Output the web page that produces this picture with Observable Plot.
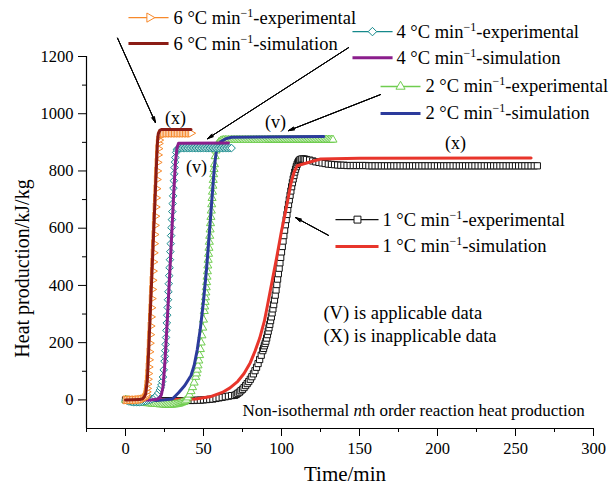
<!DOCTYPE html>
<html><head><meta charset="utf-8">
<script src="https://cdn.jsdelivr.net/npm/d3@7"></script>
<script src="https://cdn.jsdelivr.net/npm/@observablehq/plot@0.6"></script>
<style>body{margin:0;background:#fff;} svg text{font-family:'Liberation Serif','Times New Roman',serif !important;}</style>
</head><body><div id="chart"></div>
<script>
// ---- data: [time (min), heat production (kJ/kg)] ----
const exp1 = [[0,0],[2,-1],[4,-1],[6,-2],[8,-2],[10,-2],[12,-3],[14,-3],[16,-3],[18,-3],[20,-3],[22,-3],[24,-3],[26,-3],[28,-3],[30,-3],[32,-3],[34,-3],[36,-3],[38,-3],[40,-2],[42,-2],[44,-2],[46,-1],[48,-1],[50,0],[52,1],[54,2],[56,3],[58,5],[60,7],[62,9],[64,11],[66,13],[68,15],
[70,16],[71,19],[72,23],[73,27],[74,32],[75,37],[76,43],[77,50],[78,57],[79,64],[80,72],[81,81],[82,91],[83,102],[84,114],[85,127],[86,141],[87,156],[88,172],[88.5,180],[89,189],[89.5,197],[90,205],[90.5,216],[91,228],[91.5,240],[92,252],[92.5,264],[93,277],[93.5,290],[94,304],[94.5,318],[95,333],[95.5,349],[96,366],[96.5,384],[97,403],[97.5,422],[98,441],[98.5,460],[99,479],[99.5,498],[100,517],[100.5,536],[101,555],[101.5,574],[102,593],[102.5,612],[103,630],[103.5,648],[104,666],[104.5,683],[105,699],[105.5,715],[106,730],[106.5,745],[107,759],[107.5,772],[108,784],[108.5,796],[109,806],[109.5,815],[110,823],[110.5,829],[111,834],[111.5,837],[112,840],[113,842],[114,842],[115,841],[116,840],[118,838],[120,835],[122,832],[124,830],[126,828],[128,826],[130,824],[132,823],[134,822],[136,821],[138,820],[140,820],
[142,819],[144,819],[146,819],[148,819],[150,819],[152,819],[154,819],[156,818],[158,818],[160,818],[162,818],[164,818],[166,818],[168,818],[170,818],[172,818],[174,818],[176,818],[178,818],[180,818],[182,818],[184,818],[186,818],[188,818],[190,818],[192,818],[194,818],[196,818],[198,818],[200,818],[202,818],[204,818],[206,818],[208,818],[210,818],[212,818],[214,818],[216,818],[218,818],[220,818],[222,818],[224,818],[226,818],[228,818],[230,818],[232,818],[234,818],[236,818],[238,818],[240,818],[242,818],[244,818],[246,818],[248,818],[250,818],[252,818],[254,818],[256,818],[258,818],[260,818],[262,818],[264,818]];
const sim1 = [[0,0],[30,1],[45,3],[55,12],[62,26],[67,42],[72,65],[76,92],[80,130],[83,170],[86,215],[89,275],[91,330],[94,415],[97,500],[100,590],[102.5,655],[104.5,712],[106,755],[108,795],[110,818],[125,842],[150,844],[260,845]];

const exp2 = [[0,0],[1,-1],[2,-2],[3,-3],[4,-4],[5,-5],[6,-6],[7,-7],[8,-8],[9,-9],[10,-10],[11,-10],[12,-11],[13,-11],[14,-12],[15,-12],[16,-13],[17,-13],[18,-14],[19,-14],[20,-15],[21,-15],[22,-16],[23,-16],[24,-16],[25,-17],[26,-17],[27,-17],[28,-17],[29,-17],[30,-17],[31,-16],[32,-16],[33,-15],[34,-14],[35,-12],[36,-10],[37,-8],[38,-5],[39,0],[40,8],[41,18],[42,30],[43,44],[44,60],[45,80],[45.5,92],[46,105],[46.5,120],[47,137],[47.5,156],[48,177],[48.5,200],[49,225],[49.5,252],[50,280],[50.5,310],[50.75,326],[51,342],[51.25,358],[51.5,375],[51.75,393],[52,411],[52.25,430],[52.5,449],[52.75,469],[53,489],[53.25,510],[53.5,531],[53.75,552],[54,573],[54.25,595],[54.5,617],[54.75,639],[55,661],[55.25,683],[55.5,705],[55.75,727],[56,748],[56.25,768],[56.5,788],[56.75,806],[57,823],[57.5,851],[58,871],[58.5,885],[59,894],[60,901],[61,905],[62,907],
[63,908],[64,908],[65,908],[66,908],[67,908],[68,908],[69,908],[70,908],[71,908],[72,908],[73,908],[74,908],[75,908],[76,908],[77,908],[78,908],[79,908],[80,908],[81,908],[82,908],[83,908],[84,908],[85,908],[86,908],[87,908],[88,908],[89,908],[90,908],[91,908],[92,909],[93,909],[94,909],[95,909],[96,909],[97,909],[98,909],[99,909],[100,909],[101,909],[102,909],[103,909],[104,909],[105,909],[106,909],[107,909],[108,909],[109,909],[110,909],[111,909],[112,909],[113,909],[114,909],[115,909],[116,909],[117,909],[118,909],[119,909],[120,909],[121,909],[122,909],[123,909],[124,909],[125,909],[126,909],[127,909],[128,909],[129,909],[130,909],[131,909],[132,909],[133,909]];
const sim2 = [[0,0],[20,-2],[30,3],[34,25],[38,50],[42,85],[44,120],[46,175],[48,250],[50,345],[52,460],[54,600],[56,745],[57,815],[58,860],[59,884],[61,902],[64,912],[68,918],[127,920]];

const exp4 = [[0,0],[1,-3],[2,-5],[3,-6],[4,-7],[5,-8],[6,-8],[7,-8],[8,-8],[9,-8],[10,-7],[11,-6],[12,-5],[13,-4],[14,-2],[15,0],[16,1],[17,3],[18,6],[19,10],[20,16],[21,24],[22,34],[22.5,42],[23,52],[23.5,64],[24,80],[24.5,105],[25,135],[25.25,152],[25.5,172],[25.75,194],[26,218],[26.25,243],[26.5,269],[26.75,296],[27,323],[27.25,350],[27.5,378],[27.75,406],[28,434],[28.25,462],[28.5,490],[28.75,518],[29,546],[29.25,574],[29.5,602],[29.75,630],[30,658],[30.25,686],[30.5,713],[30.75,740],[31,766],[31.25,790],[31.5,812],[31.75,831],[32,847],[32.5,865],[33,874],[33.5,878],[34,880],
[35,880],[36,880],[37,880],[38,880],[39,880],[40,880],[41,880],[42,880],[43,880],[44,880],[45,880],[46,880],[47,880],[48,880],[49,880],[50,880],[51,880],[52,880],[53,880],[54,880],[55,880],[56,880],[57,880],[58,880],[59,880],[60,880],[61,880],[62,880],[63,880],[64,880],[65,880],[66,880],[67,880],[68,880]];
const sim4 = [[0,0],[16,0],[20,2],[22,8],[23,18],[24,45],[25,110],[26,200],[27,300],[28,405],[29,510],[30,620],[31,730],[32,830],[33,880],[34,897],[66,898]];

const exp6 = [[0,0],[1,0],[2,0],[3,0],[4,0],[5,0],[6,0],[7,0],[8,1],[9,1],[10,2],[11,3],[12,5],[12.5,8],[13,12],[13.25,18],[13.5,28],[13.75,40],[14,55],[14.25,72],[14.5,92],[14.75,115],[15,140],[15.25,168],[15.5,198],[15.75,228],[16,258],[16.25,290],[16.5,322],[16.75,354],[17,386],[17.25,418],[17.5,450],[17.75,482],[18,514],[18.25,546],[18.5,578],[18.75,610],[19,642],[19.25,674],[19.5,706],[19.75,738],[20,770],[20.25,800],[20.5,830],[20.75,856],[21,878],[21.25,896],[21.5,908],[22,921],[22.5,927],[23,930],[24,931],[25,931],[26,932],[27,932],[28,932],[29,932],[30,932],[31,932],[32,932],[33,932],[34,932],[35,932],[36,932],[37,932],[38,932],[39,932],[40,932],[41,932],[42,932]];
const sim6 = [[0,0],[9,1],[11,4],[12,10],[13,22],[14,70],[15,190],[16,320],[17,450],[18,580],[19,710],[20,840],[20.5,900],[21,930],[22,942],[23,945],[42,945]];

// tick values
const xMajor = [0,50,100,150,200,250,300];
const xMinor = [-25,25,75,125,175,225,275];
const yMajor = [0,200,400,600,800,1000,1200];
const yMinor = [100,300,500,700,900,1100];

// legend labels and annotation texts (positions in data units)
const legendRows = [
  {key:"exp6", label:"6 °C min-1-experimental", x1:1.9, x2:27.6, xm:15.4, xt:30.8, y:1336},
  {key:"sim6", label:"6 °C min-1-simulation", x1:1.9, x2:27.6, xt:30.8, y:1245},
  {key:"exp4", label:"4 °C min-1-experimental", x1:145.5, x2:171.2, xm:158.3, xt:173.7, y:1287},
  {key:"sim4", label:"4 °C min-1-simulation", x1:145.5, x2:171.2, xt:173.7, y:1196},
  {key:"exp2", label:"2 °C min-1-experimental", x1:163.5, x2:189.1, xm:176.3, xt:192.3, y:1095},
  {key:"sim2", label:"2 °C min-1-simulation", x1:163.5, x2:189.1, xt:192.3, y:1001},
  {key:"exp1", label:"1 °C min-1-experimental", x1:134.6, x2:162.2, xm:148.7, xt:164.7, y:630},
  {key:"sim1", label:"1 °C min-1-simulation", x1:134.6, x2:162.2, xt:164.7, y:536}
];
const marksNotes = [
  {x:32.1, y:983, text:"(x)"},
  {x:96.2, y:969, text:"(v)"},
  {x:45.5, y:812, text:"(v)"},
  {x:211.5, y:896, text:"(x)"}
];
const infoNotes = [
  {x:126.9, y:302, text:"(V) is applicable data", size:18.5},
  {x:126.9, y:222, text:"(X) is inapplicable data", size:18.5},
  {x:75, y:-37, text:"Non-isothermal nth order reaction heat production", size:17}
];
const arrows = [
  {x1:-5.1, y1:1264, x2:19.2, y2:969},
  {x1:143, y1:1231, x2:52.6, y2:913},
  {x1:163.5, y1:1067, x2:104.5, y2:941},
  {x1:130.1, y1:575, x2:109, y2:637}
];

// ---- styles ----
const FONT = "'Liberation Serif','Times New Roman',serif";
const specs = {
  exp1:{data:exp1, color:"#111111", symbol:"square", r:3.5, rotate:0},
  sim1:{data:sim1, color:"#e8352b"},
  exp2:{data:exp2, color:"#6fcd4f", symbol:"triangle", r:3, rotate:0},
  sim2:{data:sim2, color:"#2c3b9c"},
  exp4:{data:exp4, color:"#15898b", symbol:"diamond2", r:3.4, rotate:0},
  sim4:{data:sim4, color:"#8b1e8c"},
  exp6:{data:exp6, color:"#f7892b", symbol:"triangle", r:3, rotate:90},
  sim6:{data:sim6, color:"#8b1c15"}
};
const order = ["exp1","sim1","exp2","sim2","exp4","sim4","exp6","sim6"];

const marks = [];
for (const k of order) {
  const s = specs[k];
  marks.push(Plot.line(s.data, {x:d=>d[0], y:d=>d[1], stroke:s.color, strokeWidth: s.symbol ? 1.2 : 3}));
  if (s.symbol) marks.push(Plot.dot(s.data, {x:d=>d[0], y:d=>d[1], symbol:s.symbol, r:s.r, rotate:s.rotate, stroke:s.color, fill:"white", strokeWidth:1}));
}
for (const row of legendRows) {
  const s = specs[row.key];
  marks.push(Plot.link([row], {x1:"x1", x2:"x2", y1:"y", y2:"y", stroke:s.color, strokeWidth: s.symbol ? 1.4 : 3}));
  if (s.symbol) marks.push(Plot.dot([row], {x:"xm", y:"y", symbol:s.symbol, r:s.r + 0.4, rotate:s.rotate, stroke:s.color, fill:"white", strokeWidth:1}));
}
marks.push(Plot.text(legendRows, {x:"xt", y:"y", text:"label", textAnchor:"start", fontSize:18.5, fill:"black"}));
marks.push(Plot.text(marksNotes, {x:"x", y:"y", text:"text", fontSize:18, fill:"black"}));
marks.push(Plot.text(infoNotes, {x:"x", y:"y", text:"text", textAnchor:"start", fontSize:d=>d.size, fill:"black"}));
for (const a of [30, 20, 10]) {
  marks.push(Plot.arrow(arrows, {x1:"x1", y1:"y1", x2:"x2", y2:"y2", stroke:"black", strokeWidth:1, headLength:9, headAngle:a}));
}
marks.push(Plot.ruleX([-25], {stroke:"black", strokeWidth:1.2}));
marks.push(Plot.ruleY([-100], {stroke:"black", strokeWidth:1.2}));
marks.push(Plot.axisY({ticks:yMajor, tickSize:8, tickPadding:5, fontSize:16.5, tickFormat:d3.format("d"), label:null}));
marks.push(Plot.axisY({ticks:yMinor, tickSize:4, tickFormat:()=>"", label:null}));
marks.push(Plot.axisX({ticks:xMajor, tickSize:8, tickPadding:6, fontSize:16.5, tickFormat:d3.format("d"), label:null}));
marks.push(Plot.axisX({ticks:xMinor, tickSize:4, tickFormat:()=>"", label:null}));
marks.push(Plot.text(["Heat production/kJ/kg"], {text:d=>d, frameAnchor:"left", textAnchor:"middle", lineAnchor:"middle", dx:-64, dy:26, rotate:-90, fontSize:20, fill:"black"}));
marks.push(Plot.text(["Time/min"], {text:d=>d, frameAnchor:"bottom", textAnchor:"middle", lineAnchor:"middle", dx:5, dy:46, fontSize:21, fill:"black"}));

const svg = Plot.plot({
  width:613, height:486,
  marginLeft:86, marginRight:20, marginTop:56, marginBottom:58,
  x:{domain:[-25,300], label:null},
  y:{domain:[-100,1200], label:null},
  style:{fontFamily:FONT, background:"white", color:"black"},
  marks
});

// serif font everywhere, superscripts and italics
const NS = "http://www.w3.org/2000/svg";
function span(txt, attrs) {
  const t = document.createElementNS(NS, "tspan");
  for (const k in attrs) t.setAttribute(k, attrs[k]);
  t.textContent = txt;
  return t;
}
for (const g of svg.querySelectorAll("g")) g.style.fontFamily = FONT;
for (const t of svg.querySelectorAll("text")) {
  t.style.fontFamily = FONT;
  t.style.fontVariant = "normal";
  const host = t.querySelector("tspan") || t;
  const s = host.textContent;
  if (s.includes("min-1")) {
    const [a, b] = s.split("min-1");
    host.textContent = "";
    host.append(span(a + "min", {}));
    host.append(span("\u22121", {"font-size":"12px", dy:"-7"}));
    host.append(span(b, {dy:"7"}));
  } else if (s.includes(" nth ")) {
    const [a, b] = s.split("nth");
    host.textContent = "";
    host.append(span(a, {}));
    host.append(span("n", {"font-style":"italic"}));
    host.append(span("th" + b, {}));
  }
}
document.getElementById("chart").append(svg);
</script></body></html>
